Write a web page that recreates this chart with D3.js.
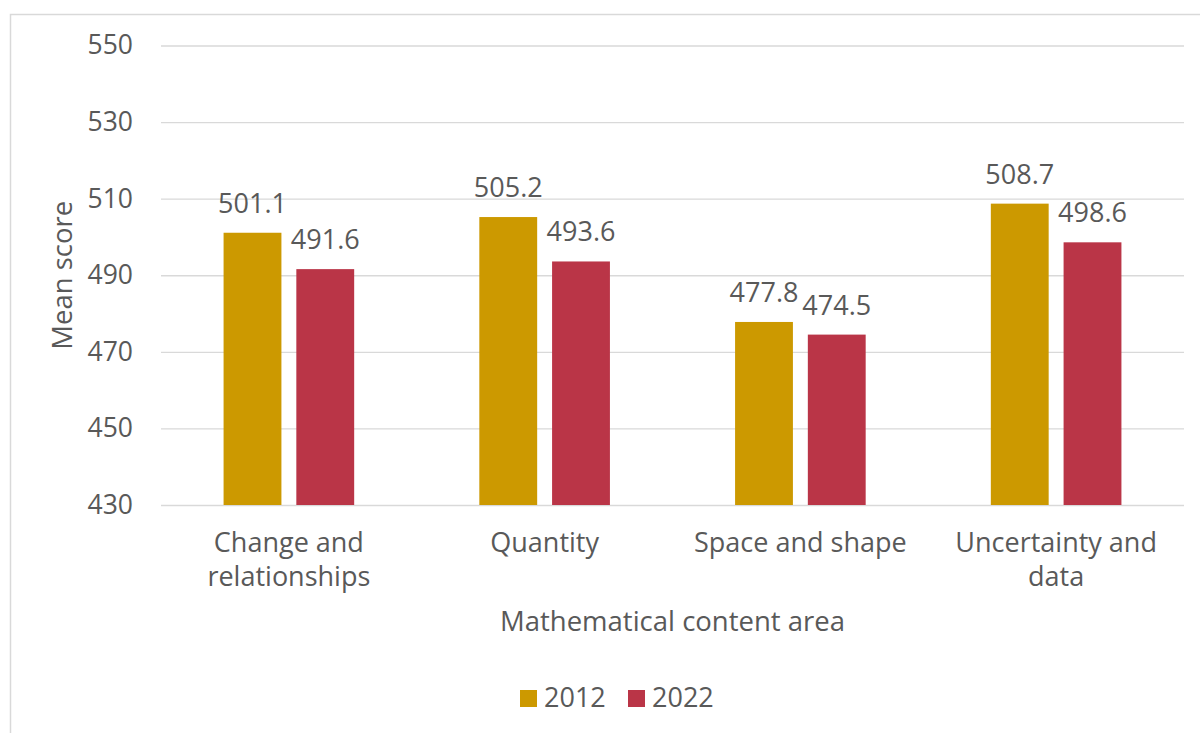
<!DOCTYPE html>
<html>
<head>
<meta charset="utf-8">
<script src="https://cdn.jsdelivr.net/npm/d3@7"></script>
<style>
  html, body { margin: 0; padding: 0; background: #fff; }
  svg { display: block; }
  text { font-family: "Open Sans", "Liberation Sans", sans-serif; fill: #595959; }
</style>
</head>
<body>
<svg id="chart" width="1200" height="733"></svg>
<script>
// Mean mathematics scores by content area
const categories = [["Change and", "relationships"], ["Quantity"], ["Space and shape"], ["Uncertainty and", "data"]];
const years = ["2012", "2022"];
const scores2012 = [501.1, 505.2, 477.8, 508.7];
const scores2022 = [491.6, 493.6, 474.5, 498.6];
const yTicks = [430, 450, 470, 490, 510, 530, 550];
const colors = ["#CC9900", "#BA3547"];

const svg = d3.select("#chart");
const W = 1200, H = 733;
const margin = { left: 161, right: 16, top: 45.5, bottom: 228 };
const fontFamily = '"Open Sans", "Liberation Sans", sans-serif';

// outer chart frame
svg.append("rect")
  .attr("x", 10.5).attr("y", 14.5)
  .attr("width", W + 10).attr("height", H + 10)
  .attr("fill", "none").attr("stroke", "#d9d9d9").attr("stroke-width", 1.5);

const x = d3.scaleBand()
  .domain(d3.range(categories.length))
  .range([margin.left, W - margin.right])
  .paddingInner(0).paddingOuter(0);

const y = d3.scaleLinear()
  .domain([430, 550])
  .range([H - margin.bottom, margin.top]);

const inner = d3.scaleBand()
  .domain(years)
  .range([0, x.bandwidth()])
  .paddingInner(0.205)
  .paddingOuter(0.86);

// gridlines and tick labels
const yAxis = d3.axisLeft(y).tickValues(yTicks).tickSize(-(W - margin.left - margin.right)).tickPadding(28);
const gy = svg.append("g").attr("transform", `translate(${margin.left},0)`).call(yAxis);
gy.select(".domain").remove();
gy.selectAll(".tick line").attr("stroke", "#d9d9d9").attr("stroke-width", 1.3);
gy.selectAll(".tick text").attr("font-size", 26.5).attr("fill", "#595959")
  .style("font-family", fontFamily);

const series = [scores2012, scores2022];
const groups = svg.append("g");
series.forEach((vals, si) => {
  const yr = years[si];
  groups.selectAll(".bar" + si)
    .data(vals)
    .enter().append("rect")
    .attr("x", (d, i) => x(i) + inner(yr))
    .attr("width", inner.bandwidth())
    .attr("y", d => y(d))
    .attr("height", d => y(430) - y(d))
    .attr("fill", colors[si]);
  groups.selectAll(".lab" + si)
    .data(vals)
    .enter().append("text")
    .attr("x", (d, i) => x(i) + inner(yr) + inner.bandwidth() / 2)
    .attr("y", d => y(d) - 20)
    .attr("text-anchor", "middle")
    .attr("font-size", 27)
    .text(d => d.toFixed(1));
});

// category labels
categories.forEach((lines, i) => {
  const cx = x(i) + x.bandwidth() / 2;
  const t = svg.append("text")
    .attr("x", cx)
    .attr("y", 552)
    .attr("text-anchor", "middle")
    .attr("font-size", 27);
  lines.forEach((ln, j) => {
    t.append("tspan").attr("x", cx).attr("dy", j === 0 ? 0 : 34).text(ln);
  });
});

// axis titles
svg.append("text")
  .attr("x", (margin.left + W - margin.right) / 2)
  .attr("y", 631)
  .attr("text-anchor", "middle")
  .attr("font-size", 27.5)
  .text("Mathematical content area");

svg.append("text")
  .attr("transform", `translate(72,${(y(430) + y(550)) / 2}) rotate(-90)`)
  .attr("text-anchor", "middle")
  .attr("font-size", 27.5)
  .text("Mean score");

// legend
const legend = svg.append("g");
const legendX = [520, 628];
years.forEach((yr, i) => {
  legend.append("rect")
    .attr("x", legendX[i]).attr("y", 690)
    .attr("width", 17).attr("height", 17)
    .attr("fill", colors[i]);
  legend.append("text")
    .attr("x", legendX[i] + 24).attr("y", 707)
    .attr("font-size", 27)
    .text(yr);
});
</script>
</body>
</html>
